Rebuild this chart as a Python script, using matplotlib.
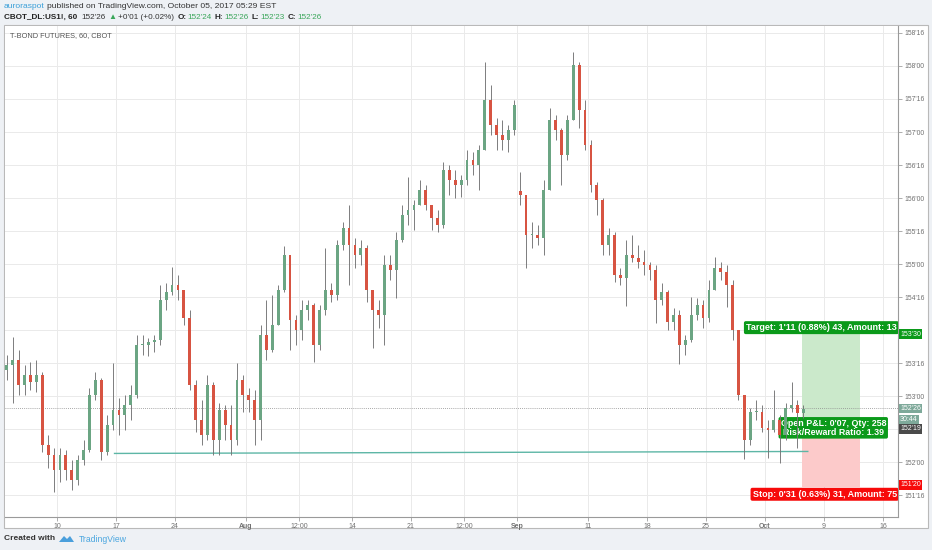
import numpy as np
import pandas as pd
import matplotlib
matplotlib.use("Agg")
import matplotlib.pyplot as plt
import matplotlib.transforms as mtrans
from matplotlib.patches import Rectangle, Polygon
from matplotlib.ticker import FuncFormatter

plt.rcParams['font.family'] = ['Liberation Sans', 'DejaVu Sans']

# ---------------------------------
# 1. Half-day bars, prices in points
# ---------------------------------
first_bar = "2017-07-03 12:00"
first_open = 153.40
roll_bar = 87          # contract roll, price gaps down here
roll_open = 156.10

highs = [153.62, 153.89, 153.70, 153.47, 153.52, 153.55, 153.36, 152.41, 152.21, 152.21,
         152.18, 152.03, 152.11, 152.33, 153.12, 153.36, 153.27, 152.71, 153.50, 152.97,
         153.02, 153.17, 153.92, 153.92, 153.88, 153.92, 154.68, 154.71, 154.95, 154.83,
         154.61, 154.30, 153.24, 152.94, 153.32, 153.21, 152.89, 152.86, 152.86, 153.50,
         153.32, 153.12, 153.09, 154.08, 154.45, 154.53, 154.68, 155.27, 155.14, 154.23,
         154.45, 154.45, 154.41, 154.38, 155.24, 154.71, 155.36, 155.64, 155.89, 155.39,
         155.36, 155.29, 154.61, 154.45, 155.14, 155.14, 155.48, 155.89, 156.32, 155.97,
         156.27, 156.20, 155.89, 155.82, 156.55, 156.50, 156.42, 156.35, 156.73, 156.70,
         156.80, 158.06, 157.71, 157.21, 157.18, 157.11, 157.48, 156.39, 156.05, 155.64,
         155.59, 156.27, 157.36, 157.26, 157.06, 157.26, 158.21, 158.06, 157.48, 156.88,
         156.24, 156.00, 155.55, 155.48, 154.94, 155.36, 155.44, 155.29, 155.21, 155.03,
         154.98, 154.71, 154.61, 154.33, 154.30, 153.92, 154.50, 154.48, 154.45, 154.76,
         155.11, 155.03, 154.98, 154.76, 154.00, 153.02, 152.82, 152.94, 152.86, 152.64,
         153.09, 152.71, 152.89, 153.21, 152.94, 152.86]

lows = [153.24, 152.89, 153.02, 153.02, 153.09, 153.06, 152.15, 151.91, 151.55, 151.70,
        151.73, 151.58, 151.65, 151.95, 152.15, 152.94, 152.03, 152.11, 152.48, 152.41,
        152.48, 152.64, 152.97, 153.62, 153.61, 153.67, 153.77, 154.30, 154.53, 154.45,
        154.08, 153.09, 152.45, 152.26, 152.33, 152.11, 152.11, 152.33, 152.11, 152.26,
        152.76, 152.76, 152.26, 152.33, 153.55, 153.67, 154.08, 154.58, 153.70, 153.77,
        153.85, 154.15, 153.52, 153.70, 154.23, 154.42, 154.45, 155.21, 154.68, 154.94,
        154.98, 154.42, 153.73, 154.03, 153.77, 154.76, 154.48, 155.33, 155.59, 155.52,
        155.89, 155.82, 155.52, 155.48, 155.55, 156.05, 156.00, 156.02, 156.20, 156.35,
        156.12, 156.73, 156.95, 156.73, 156.73, 156.70, 156.95, 155.89, 154.94, 155.24,
        155.29, 155.14, 156.12, 156.88, 156.20, 156.58, 157.18, 157.06, 156.73, 156.09,
        155.74, 155.14, 155.14, 154.73, 154.68, 154.36, 155.03, 154.94, 154.83, 154.76,
        154.11, 154.38, 154.00, 154.00, 153.48, 153.62, 153.82, 154.15, 154.03, 154.12,
        154.61, 154.76, 154.35, 153.85, 152.94, 152.05, 152.26, 152.64, 152.45, 152.06,
        152.45, 151.98, 152.33, 152.76, 152.21, 152.67]

closes = [153.47, 153.55, 153.17, 153.32, 153.21, 153.32, 152.26, 152.11, 151.88, 152.11,
          151.88, 151.73, 152.03, 152.18, 153.02, 153.24, 152.15, 152.56, 152.79, 152.71,
          152.86, 153.02, 153.77, 153.77, 153.82, 153.85, 154.45, 154.58, 154.68, 154.61,
          154.18, 153.17, 152.64, 152.41, 153.17, 152.33, 152.79, 152.56, 152.33, 153.24,
          153.02, 152.94, 152.64, 153.92, 153.70, 154.08, 154.61, 155.14, 154.15, 154.00,
          154.30, 154.38, 153.77, 154.30, 154.61, 154.53, 155.29, 155.55, 155.29, 155.14,
          155.24, 154.61, 154.30, 154.23, 154.98, 154.91, 155.36, 155.74, 155.82, 155.89,
          156.12, 155.89, 155.70, 155.59, 156.42, 156.27, 156.20, 156.27, 156.58, 156.50,
          156.73, 157.48, 157.11, 156.95, 156.88, 157.03, 157.41, 156.05, 155.44, 155.44,
          155.39, 156.12, 157.18, 157.03, 156.65, 157.18, 158.02, 157.33, 156.80, 156.20,
          155.97, 155.29, 155.44, 154.83, 154.79, 155.14, 155.09, 155.03, 154.98, 154.91,
          154.45, 154.58, 154.12, 154.23, 153.77, 153.85, 154.23, 154.38, 154.18, 154.61,
          154.94, 154.88, 154.68, 154.00, 153.02, 152.33, 152.76, 152.76, 152.52, 152.48,
          152.64, 152.41, 152.82, 152.86, 152.74, 152.81]

# ---------------------------------
# 2. Axis ticks and drawings
# ---------------------------------
tick_dates = ["2017-07-10", "2017-07-17", "2017-07-24", "2017-08-01", "2017-08-07 12:00",
              "2017-08-14", "2017-08-21", "2017-08-25 12:00", "2017-09-01", "2017-09-11",
              "2017-09-18", "2017-09-25", "2017-10-02", "2017-10-09", "2017-10-16"]
tick_labels = ["10", "17", "24", "Aug", "12:00", "14", "21", "12:00", "Sep",
               "11", "18", "25", "Oct", "9", "16"]
month_labels = ["Aug", "Sep", "Oct"]
hidden_price_ticks = ["154'00", "152'16"]   # covered by the price tags

trend_dates = ["2017-07-14 21:00", "2017-10-05 15:00"]
trend_prices = [152.13, 152.16]

entry_price = 152 + 19 / 32
target_price = 153 + 30 / 32
stop_price = 151 + 20 / 32
last_price = 152 + 26 / 32
pos_dates = ["2017-10-05 03:00", "2017-10-12 01:00"]

# what is visible of the tool labels before the price scale cuts them
target_text = "Target: 1'11 (0.88%) 43, Amount: 13"
stop_text = "Stop: 0'31 (0.63%) 31, Amount: 75"
pnl_text = "Open P&L: 0'07, Qty: 258\nRisk/Reward Ratio: 1.39"

UP = '#6ba583'
DOWN = '#d75442'
WICK = '#737375'
GRID = '#eaeaea'
TV_GREEN = '#0b9a1a'
TV_RED = '#f70a0a'


def tv_x(ts):
    # TradingView style axis: trading days since Jul 10, weekends removed
    ts = pd.Timestamp(ts)
    d = np.busday_count(np.datetime64("2017-07-10"), np.datetime64(ts.date()))
    return d + (ts.hour + ts.minute / 60) / 24


def tv_price(p, pos=None):
    whole = int(np.floor(p + 1e-9))
    frac = int(round((p - whole) * 32))
    if frac == 32:
        whole, frac = whole + 1, 0
    return f"{whole}'{frac:02d}"


def axis_price(p, pos=None):
    s = tv_price(p)
    return "" if s in hidden_price_ticks else s


# ---------------------------------
# 3. Figure + panel
# ---------------------------------
W, H = 932, 550
fig = plt.figure(figsize=(W / 100, H / 100), dpi=100)
fig.patch.set_facecolor('#eef1f5')
fig.add_artist(Rectangle((4 / W, 22 / H), 924 / W, 503 / H, transform=fig.transFigure,
                         fc='white', ec='#b9b9b9', lw=0.8, zorder=0))

ax = fig.add_axes([5 / W, 33 / H, 893 / W, 491 / H])
ax.set_facecolor('white')

n = len(closes)
days = pd.bdate_range(pd.Timestamp(first_bar).normalize(), periods=n // 2 + 2)
stamps = [d + pd.Timedelta(hours=h) for d in days for h in (0, 12)][1:n + 1]
bar_x = np.array([tv_x(s) for s in stamps]) + 0.25

o = np.array([first_open] + closes[:-1])
o[roll_bar] = roll_open
c = np.array(closes)
up = c >= o

ax.vlines(bar_x, lows, highs, colors=WICK, lw=0.65, zorder=3)
ax.bar(bar_x, np.maximum(np.abs(c - o), 0.012), bottom=np.minimum(o, c), width=0.24,
       color=np.where(up, UP, DOWN), lw=0, zorder=4)

# trend line
ax.plot([tv_x(t) for t in trend_dates], trend_prices, color='#5db6a6', lw=1.0, zorder=2)

# last price dotted line
ax.axhline(last_price, color='#8c8c8c', lw=0.6, ls=(0, (1, 1.5)), zorder=2)

# long position tool
px0, px1 = tv_x(pos_dates[0]), tv_x(pos_dates[1])
ax.fill_between([px0, px1], entry_price, target_price, color='#cbe9cb', lw=0, zorder=1)
ax.fill_between([px0, px1], stop_price, entry_price, color='#fccaca', lw=0, zorder=1)
pmid = (px0 + px1) / 2

edge_tf = mtrans.blended_transform_factory(ax.transAxes, ax.transData)


def tool_label(x, y, txt, fc, dy, va, size, z, base=ax.transData, ha='center'):
    tf = mtrans.offset_copy(base, fig=fig, x=0, y=dy, units='dots')
    ax.text(x, y, txt, transform=tf, ha=ha, va=va, fontsize=size, fontweight='bold',
            color='white', linespacing=0.95, zorder=z, clip_on=True,
            bbox=dict(boxstyle='round,pad=0.22,rounding_size=0.2', fc=fc, ec='none'))


tool_label(0.9985, target_price, target_text, TV_GREEN, 2, 'bottom', 6.5, 6,
           base=edge_tf, ha='right')
tool_label(0.9985, stop_price, stop_text, TV_RED, -3, 'top', 6.5, 6,
           base=edge_tf, ha='right')
tool_label(pmid + 0.2, entry_price, pnl_text, TV_GREEN, -5, 'center', 6.4, 2)

# ---------------------------------
# 4. Axes styling
# ---------------------------------
ax.set_xlim(-4.407, 71.27)
ax.set_ylim(151.167, 158.606)

ax.set_xticks([tv_x(t) for t in tick_dates])
ax.set_xticklabels(tick_labels)
for lab in ax.get_xticklabels():
    if lab.get_text() in month_labels:
        lab.set_fontweight('bold')
        lab.set_color('#555555')
ax.set_yticks(np.arange(151.5, 158.51, 0.5))
ax.yaxis.set_major_formatter(FuncFormatter(axis_price))
ax.yaxis.tick_right()
ax.tick_params(axis='y', length=3, width=0.6, color='#a0a0a0', labelsize=4.9,
               labelcolor='#707070', pad=1.5)
ax.tick_params(axis='x', length=3, width=0.6, color='#a0a0a0', labelsize=5.0,
               labelcolor='#707070', pad=1.0)
ax.grid(True, color=GRID, lw=0.7, zorder=0)
ax.set_axisbelow(True)
for side in ['left', 'top']:
    ax.spines[side].set_visible(False)
for side in ['right', 'bottom']:
    ax.spines[side].set_color('#9a9a9a')
    ax.spines[side].set_linewidth(0.8)

# price axis tags


def price_tag(p, txt, fc, dy=0):
    ax.annotate(txt, xy=(1.0, p), xycoords=edge_tf, xytext=(2, dy), textcoords='offset pixels',
                ha='left', va='center', fontsize=5.0, color='white', annotation_clip=False,
                zorder=10, bbox=dict(boxstyle='square,pad=0.2', fc=fc, ec='none'))


price_tag(target_price, tv_price(target_price), TV_GREEN)
price_tag(last_price, tv_price(last_price), '#7ea99a')
price_tag(last_price, "30:44", '#7ea99a', dy=-11)
price_tag(entry_price, tv_price(entry_price), '#4a4a4a', dy=-6)
price_tag(stop_price, tv_price(stop_price), TV_RED, dy=2)

# ---------------------------------
# 5. Header and footer texts
# ---------------------------------
renderer = fig.canvas.get_renderer()


def chain(parts, x0, y_top, size):
    x = x0
    for s, col, wt, gap in parts:
        t = fig.text(x / W, 1 - y_top / H, s, color=col, fontweight=wt, fontsize=size,
                     va='center', ha='left')
        x += t.get_window_extent(renderer).width + gap


DARK = '#333333'
HG = '#3aa65a'
chain([("auroraspot", '#3a9fd8', 'normal', 2.5),
       ("published on TradingView.com, October 05, 2017 05:29 EST", DARK, 'normal', 0)],
      4, 6.5, 6.1)
chain([("CBOT_DL:US1!, 60", '#222222', 'bold', 4),
       ("152'26", DARK, 'normal', 3),
       ("\u25b2", HG, 'normal', 2),
       ("+0'01 (+0.02%)", DARK, 'normal', 3),
       ("O:", '#222222', 'bold', 1), ("152'24", HG, 'normal', 3),
       ("H:", '#222222', 'bold', 1), ("152'26", HG, 'normal', 3),
       ("L:", '#222222', 'bold', 1), ("152'23", HG, 'normal', 3),
       ("C:", '#222222', 'bold', 1), ("152'26", HG, 'normal', 0)],
      4, 17.5, 5.85)

fig.text(10 / W, 1 - 36 / H, "T-BOND FUTURES, 60, CBOT", color='#555555', fontsize=5.3,
         va='center', ha='left')

fig.text(4 / W, 1 - 539 / H, "Created with", color='#333333', fontsize=6.0, fontweight='bold',
         va='center', ha='left')
fig.add_artist(Polygon([(59 / W, 8 / H), (64 / W, 14 / H), (67 / W, 11 / H),
                        (70 / W, 14 / H), (74 / W, 8 / H)], closed=True,
                       transform=fig.transFigure, fc='#4a9fdc', ec='none'))
fig.text(79 / W, 1 - 539 / H, "TradingView", color='#4aa6df', fontsize=6.2,
         va='center', ha='left')

fig.savefig("out.png", dpi=100, facecolor=fig.get_facecolor())
